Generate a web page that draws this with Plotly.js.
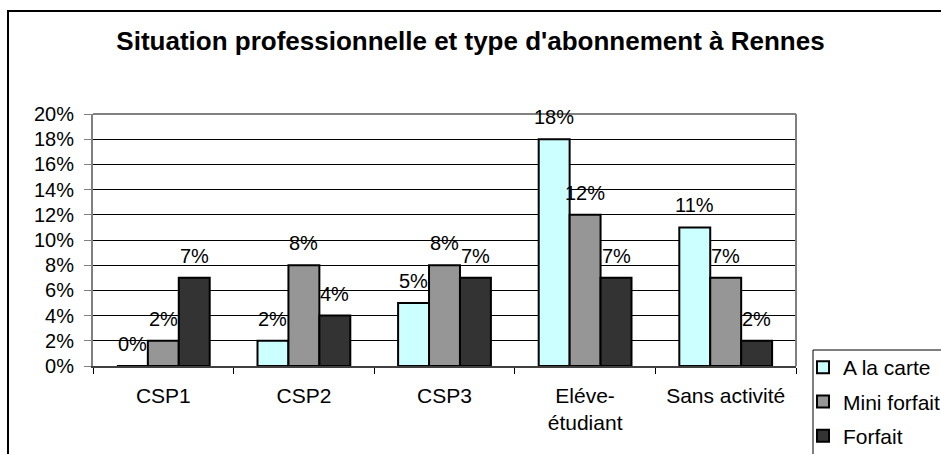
<!DOCTYPE html>
<html>
<head>
<meta charset="utf-8">
<script src="https://cdn.plot.ly/plotly-3.0.1.min.js"></script>
<style>
  html, body { margin: 0; padding: 0; background: #fff; overflow: hidden; }
  #frame { position: absolute; left: 7px; top: 10px; width: 1200px; height: 800px;
           border-left: 2px solid #000; border-top: 2px solid #000; }
  #chart { position: absolute; left: 0; top: 0; width: 941px; height: 454px; }
</style>
</head>
<body>
<div id="frame"></div>
<div id="chart"></div>
<script>
// ---- data ----
const categories = ['CSP1', 'CSP2', 'CSP3', 'Eléve-<br>étudiant', 'Sans activité'];
const seriesNames = ['A la carte', 'Mini forfait', 'Forfait'];
const aLaCarte = [0, 2, 5, 18, 11];
const miniForfait = [2, 8, 8, 12, 7];
const forfait = [7, 4, 7, 7, 2];
const yTickVals = [0, 2, 4, 6, 8, 10, 12, 14, 16, 18, 20];
const yTickText = ['0%', '2%', '4%', '6%', '8%', '10%', '12%', '14%', '16%', '18%', '20%'];

const colors = ['#CCFFFF', '#969696', '#333333'];
const series = [aLaCarte, miniForfait, forfait];
const FONT = 'Liberation Sans, Arial, sans-serif';
const bargap = 0.34;

const traces = series.map((vals, k) => ({
  type: 'bar',
  name: seriesNames[k],
  legendgroup: 'g' + k,
  x: categories,
  y: vals,
  marker: { color: colors[k], line: { color: '#000', width: 2 } },
  hoverinfo: 'skip'
}));

// data labels above bars (positioned through the axes' data coordinates)
const w = (1 - bargap) / series.length;
const annotations = [];
series.forEach((vals, k) => {
  vals.forEach((v, i) => {
    annotations.push({
      xref: 'x', yref: 'y',
      x: i + (k - (series.length - 1) / 2) * w,
      y: v,
      text: v + '%',
      showarrow: false,
      xanchor: 'center',
      yanchor: 'bottom',
      yshift: 9,
      font: { family: FONT, size: 20, color: '#000' }
    });
  });
});

const layout = {
  width: 941, height: 454,
  margin: { l: 93, r: 145, t: 114, b: 88, autoexpand: false },
  paper_bgcolor: 'rgba(0,0,0,0)',
  plot_bgcolor: 'rgba(0,0,0,0)',
  font: { family: FONT, size: 19, color: '#000' },
  title: {
    text: "<b>Situation professionnelle et type d'abonnement à Rennes</b>",
    font: { family: FONT, size: 26, color: '#000' },
    x: 0.5, xanchor: 'center', xref: 'container',
    y: 1 - 41 / 454, yanchor: 'middle', yref: 'container'
  },
  barmode: 'group',
  bargap: bargap,
  bargroupgap: 0,
  showlegend: true,
  legend: {
    x: (803 - 93) / 703, xanchor: 'left', y: (366 - 347) / 252, yanchor: 'top',
    bgcolor: 'rgba(0,0,0,0)', borderwidth: 0,
    font: { family: FONT, size: 21, color: '#000' },
    tracegroupgap: 4,
    traceorder: 'grouped'
  },
  xaxis: {
    type: 'category',
    range: [-0.5, categories.length - 0.5],
    showgrid: false,
    showline: true, linecolor: '#404040', linewidth: 1.5,
    ticks: 'outside', tickson: 'boundaries', ticklen: 6, tickcolor: '#000', tickwidth: 1,
    tickfont: { family: FONT, size: 21, color: '#000' },
    ticklabelstandoff: 10,
    fixedrange: true
  },
  yaxis: {
    range: [0, 20],
    tickvals: yTickVals, ticktext: yTickText,
    showgrid: true, gridcolor: '#000', gridwidth: 1,
    showline: true, linecolor: '#808080', linewidth: 2,
    ticks: 'outside', ticklen: 7, tickcolor: '#808080', tickwidth: 1,
    tickfont: { family: FONT, size: 20, color: '#000' },
    ticklabelstandoff: 6,
    zeroline: false,
    fixedrange: true
  },
  shapes: [
    { type: 'line', xref: 'x domain', yref: 'y domain', x0: 0, x1: 1, y0: 1, y1: 1,
      line: { color: '#808080', width: 2 }, layer: 'above' },
    { type: 'line', xref: 'x domain', yref: 'y domain', x0: 1, x1: 1, y0: 0, y1: 1,
      line: { color: '#808080', width: 2 }, layer: 'above' },
    { type: 'rect', xref: 'paper', yref: 'paper',
      x0: (813 - 93) / 703, x1: 1.5, y0: -1, y1: (366 - 350) / 252,
      line: { color: '#000', width: 1 }, fillcolor: '#fff', layer: 'above' }
  ],
  annotations: annotations
};

Plotly.newPlot('chart', traces, layout, { displayModeBar: false, staticPlot: true });
</script>
</body>
</html>
